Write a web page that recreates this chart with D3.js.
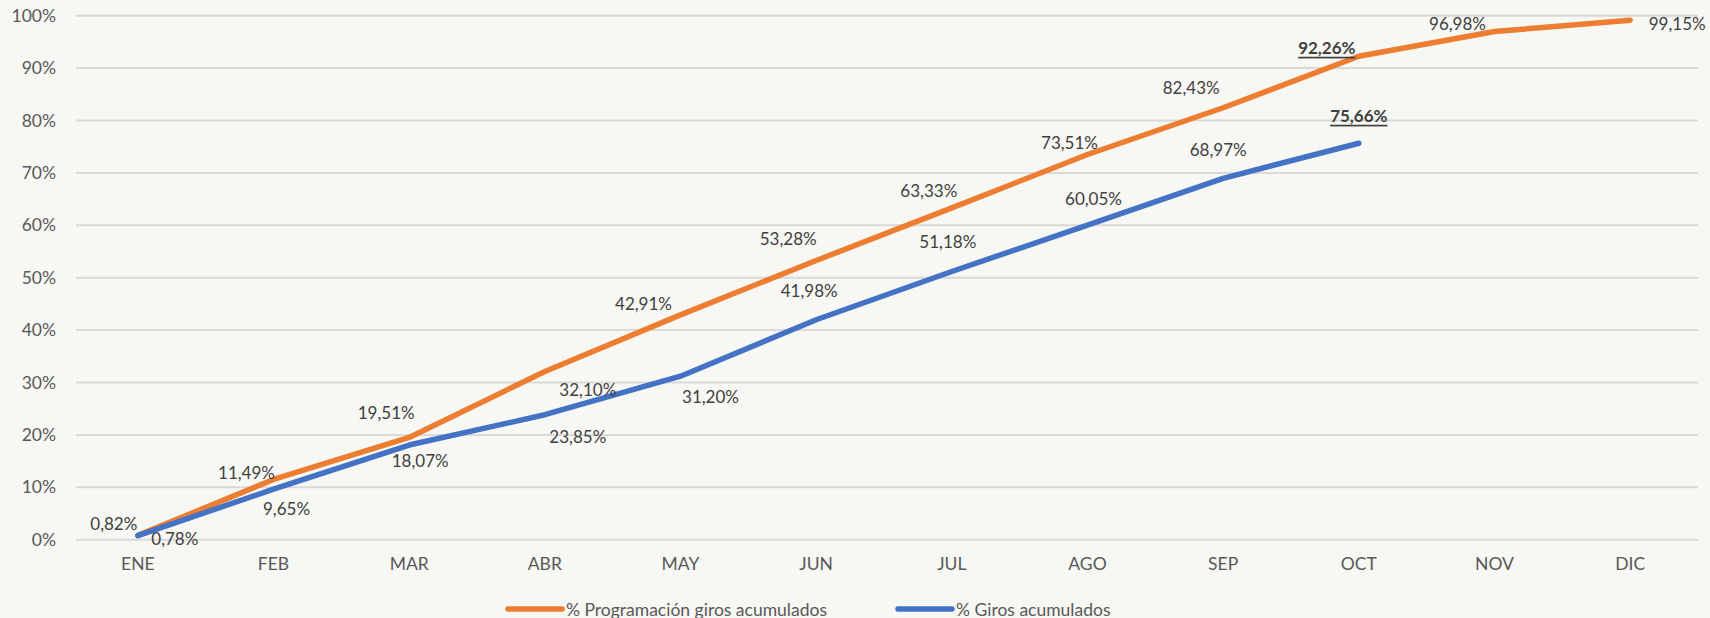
<!DOCTYPE html>
<html>
<head>
<meta charset="utf-8"/>
<title>Giros acumulados</title>
<script src="https://d3js.org/d3.v7.min.js"></script>
<style>
  body { margin: 0; background: #f7f7f3; }
  svg { display: block; }
  text { font-family: Lato, "Open Sans", sans-serif; }
</style>
</head>
<body>
<svg width="1710" height="618"></svg>
<script>
  // datos
  var meses = ["ENE", "FEB", "MAR", "ABR", "MAY", "JUN", "JUL", "AGO", "SEP", "OCT", "NOV", "DIC"];
  var programacion = [0.82, 11.49, 19.51, 32.10, 42.91, 53.28, 63.33, 73.51, 82.43, 92.26, 96.98, 99.15];
  var giros = [0.78, 9.65, 18.07, 23.85, 31.20, 41.98, 51.18, 60.05, 68.97, 75.66];
  var yTicks = [0, 10, 20, 30, 40, 50, 60, 70, 80, 90, 100];
  var series = ["% Programación giros acumulados", "% Giros acumulados"];

  // desplazamiento de etiquetas (como quedaron en la hoja)
  var progDx = [-24, -27, -23, 43, -37, -28, -23, -18, -32, -32, -37, 47];
  var progDy = [-12, -7, -25, 18, -11, -22, -17, -12, -20, -9, -8, 3];
  var girosDx = [37, 13, 11, 33, 30, -7, -4, 6, -5, 0];
  var girosDy = [3, 19, 15, 22, 20, -29, -30, -27, -29, -28];

  var naranja = "#ed7d31", azul = "#4472c4";

  var svg = d3.select("svg");

  var x = d3.scaleBand().domain(meses).range([70, 1698]);
  var y = d3.scaleLinear().domain([0, 100]).range([539.7, 15.7]);
  var cx = function(m) { return x(m) + x.bandwidth() / 2; };

  // grid
  svg.append("g").selectAll("line")
    .data(yTicks).enter().append("line")
    .attr("x1", 76).attr("x2", 1698)
    .attr("y1", function(d) { return y(d); })
    .attr("y2", function(d) { return y(d); })
    .attr("stroke", "#d9d9d9").attr("stroke-width", 2);

  // eje y
  var yAxis = svg.append("g")
    .attr("transform", "translate(70,0)")
    .call(d3.axisLeft(y).tickValues(yTicks).tickSize(0).tickPadding(14).tickFormat(function(d) { return d + "%"; }));
  yAxis.select(".domain").remove();
  yAxis.selectAll("text").attr("fill", "#595959").style("font-size", "17.5px").style("font-family", "Lato");

  // eje x
  var xAxis = svg.append("g")
    .attr("transform", "translate(0,550)")
    .call(d3.axisBottom(x).tickSize(0).tickPadding(8));
  xAxis.select(".domain").remove();
  xAxis.selectAll("text").attr("fill", "#595959").style("font-size", "17.5px").style("font-family", "Lato");

  var line = d3.line()
    .x(function(d, i) { return cx(meses[i]); })
    .y(function(d) { return y(d); });

  svg.append("path").datum(programacion)
    .attr("d", line).attr("fill", "none")
    .attr("stroke", naranja).attr("stroke-width", 5.5)
    .attr("stroke-linecap", "round").attr("stroke-linejoin", "round");

  svg.append("path").datum(giros)
    .attr("d", line).attr("fill", "none")
    .attr("stroke", azul).attr("stroke-width", 5.5)
    .attr("stroke-linecap", "round").attr("stroke-linejoin", "round");

  function fmt(v) { return v.toFixed(2).replace(".", ",") + "%"; }

  function etiquetas(vals, dx, dy, destacado) {
    svg.append("g").selectAll("text")
      .data(vals).enter().append("text")
      .attr("x", function(d, i) { return cx(meses[i]) + dx[i]; })
      .attr("y", function(d, i) { return y(d) + dy[i]; })
      .attr("text-anchor", "middle")
      .attr("dominant-baseline", "central")
      .attr("fill", "#404040")
      .style("font-size", "17px")
      .style("font-weight", function(d, i) { return i === destacado ? "bold" : "normal"; })
      .style("text-decoration", function(d, i) { return i === destacado ? "underline" : "none"; })
      .text(fmt);
  }
  etiquetas(programacion, progDx, progDy, 9);
  etiquetas(giros, girosDx, girosDy, 9);

  // leyenda
  var leyenda = [{ name: series[0], color: naranja, x: 508 }, { name: series[1], color: azul, x: 898 }];
  var lg = svg.append("g").selectAll("g").data(leyenda).enter().append("g")
    .attr("transform", function(d) { return "translate(" + d.x + ",609)"; });
  lg.append("line").attr("x1", 0).attr("x2", 54).attr("y1", 0).attr("y2", 0)
    .attr("stroke", function(d) { return d.color; }).attr("stroke-width", 5.5).attr("stroke-linecap", "round");
  lg.append("text").attr("x", 58).attr("y", 0).attr("dominant-baseline", "central")
    .attr("fill", "#595959").style("font-size", "17.5px")
    .text(function(d) { return d.name; });
</script>
</body>
</html>
